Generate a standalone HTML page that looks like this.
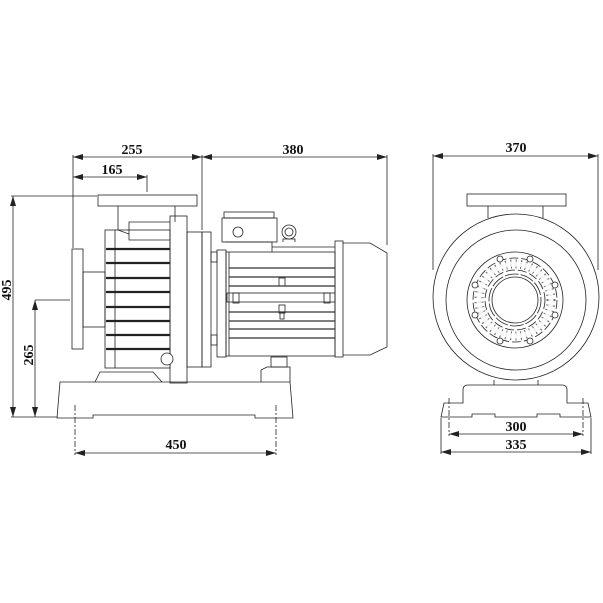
<!DOCTYPE html>
<html><head><style>
html,body{margin:0;padding:0;background:#fff}
svg{display:block}
text{font-family:"Liberation Serif",serif;font-weight:bold;font-size:14px;fill:#111}
</style></head><body>
<svg width="603" height="603" viewBox="0 0 603 603" xmlns="http://www.w3.org/2000/svg">
<defs>
<marker id="a" viewBox="0 0 10 6" refX="10" refY="3" markerWidth="10" markerHeight="6" orient="auto-start-reverse" markerUnits="userSpaceOnUse"><path d="M0,0 L10,3 L0,6 z" fill="#222"/></marker>
</defs>
<g fill="none" stroke="#222" stroke-width="0.8">
<line x1="73" y1="157" x2="202" y2="157" marker-start="url(#a)" marker-end="url(#a)"/>
<line x1="202" y1="157" x2="387" y2="157" marker-start="url(#a)" marker-end="url(#a)"/>
<line x1="73" y1="177" x2="147" y2="177" marker-start="url(#a)" marker-end="url(#a)"/>
<line x1="73" y1="155" x2="73" y2="248"/>
<line x1="202" y1="155" x2="202" y2="230"/>
<line x1="387" y1="155" x2="387" y2="245"/>
<line x1="147" y1="175" x2="147" y2="192"/>
<line x1="13" y1="196" x2="13" y2="417" marker-start="url(#a)" marker-end="url(#a)"/>
<line x1="11" y1="196" x2="97" y2="196"/>
<line x1="11" y1="417" x2="57" y2="417"/>
<line x1="35" y1="300" x2="35" y2="417" marker-start="url(#a)" marker-end="url(#a)"/>
<line x1="35" y1="300" x2="70" y2="300"/>
<line x1="75" y1="453" x2="276" y2="453" marker-start="url(#a)" marker-end="url(#a)"/>
<line x1="75" y1="405" x2="75" y2="455" stroke-dasharray="6,2,2,2"/>
<line x1="276" y1="405" x2="276" y2="455" stroke-dasharray="6,2,2,2"/>
<rect x="98" y="195" width="99" height="11"/>
<line x1="118" y1="206" x2="118" y2="230"/>
<line x1="175" y1="206" x2="175" y2="222"/>
<rect x="105" y="230" width="65" height="138"/>
<line x1="115" y1="230" x2="115" y2="368"/>
<path d="M118,230 L129,234 L129,222 L170,222 M129,234 L129,240 L170,240"/>
<rect x="72" y="249" width="11" height="100"/>
<rect x="83" y="272" width="22" height="55"/>
<rect x="170" y="216" width="17" height="167"/>
<rect x="187" y="232" width="15" height="135"/>
<rect x="202" y="232" width="9" height="135"/>
<rect x="211" y="252" width="6" height="10"/>
<rect x="211" y="335" width="6" height="10"/>
<rect x="217" y="250" width="9" height="107"/>
<circle cx="167" cy="359" r="6" fill="#fff"/>
<rect x="226" y="252" width="109" height="104"/>
<line x1="229" y1="252" x2="229" y2="356"/>
<path d="M225,242 L272,242 L272,252 M272,247 L335,247"/>
<rect x="335" y="241" width="8" height="116"/>
<path d="M343,243 L370,243 L387,253 L387,347 L370,355 L343,355"/>
<rect x="222" y="218" width="55" height="24"/>
<rect x="224" y="212" width="50" height="6"/>
<circle cx="238" cy="232" r="5"/>
<circle cx="289" cy="232" r="7"/><circle cx="289" cy="232" r="4"/>
<path d="M283,242 L283,239 L295,239 L295,242"/>
<rect x="227" y="293" width="108" height="9"/>
<rect x="233" y="293" width="6" height="10"/><rect x="324" y="293" width="6" height="10"/>
<rect x="279" y="278" width="6" height="8"/><rect x="279" y="305" width="6" height="8"/><rect x="280" y="313" width="4" height="6"/>
<path d="M60,382 L290,382 L293,418 L255,418 L255,415 L93,415 L93,418 L57,418 Z"/>
<path d="M95,382 L100,372 L153,372 L162,382"/>
<path d="M261,382 L261,370 L267,367 L290,367 L290,382"/>
<rect x="271" y="357" width="16" height="10"/>
</g>
<g fill="none" stroke="#222" stroke-width="2.2">
<line x1="106" y1="249" x2="170" y2="249"/><line x1="106" y1="263" x2="170" y2="263"/>
<line x1="106" y1="278" x2="170" y2="278"/><line x1="106" y1="292" x2="170" y2="292"/>
<line x1="106" y1="307" x2="170" y2="307"/><line x1="106" y1="321" x2="170" y2="321"/>
<line x1="106" y1="335" x2="170" y2="335"/><line x1="106" y1="349" x2="170" y2="349"/>
</g>
<g fill="none" stroke="#333" stroke-width="1.3">
<line x1="229" y1="268" x2="335" y2="268"/><line x1="229" y1="277" x2="335" y2="277"/>
<line x1="229" y1="286" x2="335" y2="286"/><line x1="229" y1="312" x2="335" y2="312"/>
<line x1="229" y1="321" x2="335" y2="321"/><line x1="229" y1="329" x2="335" y2="329"/>
<line x1="229" y1="338" x2="335" y2="338"/>
</g>
<g fill="none" stroke="#222" stroke-width="0.8">
<line x1="433" y1="156" x2="598" y2="156" marker-start="url(#a)" marker-end="url(#a)"/>
<line x1="433" y1="154" x2="433" y2="270"/>
<line x1="598" y1="154" x2="598" y2="270"/>
<rect x="467" y="194" width="99" height="12"/>
<line x1="488" y1="206" x2="488" y2="218"/><line x1="543" y1="206" x2="543" y2="218"/>
<circle cx="516" cy="297" r="83"/>
<circle cx="516" cy="300" r="70"/>
<circle cx="515" cy="300" r="48"/>
<circle cx="515" cy="300" r="42" stroke-dasharray="9,3"/>
<circle cx="515" cy="300" r="30" stroke-dasharray="9,3"/>
<circle cx="515" cy="300" r="26" stroke-dasharray="14,2"/>
<circle cx="515" cy="300" r="23"/>
<circle cx="515" cy="300" r="36" stroke="#666" stroke-width="9" stroke-dasharray="1,4"/>
<path d="M494,380 L494,385 M538,380 L538,385"/>
<path d="M463,403 L463,390 Q463,385 468,385 L562,385 Q567,385 567,390 L567,403 L588,403 L591,417 L560,417 L560,414 L537,414 L537,417 L495,417 L495,414 L472,414 L472,417 L441,417 L444,403 Z"/>
<line x1="449" y1="434" x2="583" y2="434" marker-start="url(#a)" marker-end="url(#a)"/>
<line x1="441" y1="452" x2="591" y2="452" marker-start="url(#a)" marker-end="url(#a)"/>
<line x1="449" y1="398" x2="449" y2="436" stroke-dasharray="6,2,2,2"/>
<line x1="583" y1="398" x2="583" y2="436" stroke-dasharray="6,2,2,2"/>
<line x1="441" y1="418" x2="441" y2="454"/>
<line x1="591" y1="418" x2="591" y2="454"/>
</g>
<circle cx="515" cy="300" r="36" fill="none" stroke="#fff" stroke-width="5" stroke-dasharray="1,4"/>
<g fill="#fff" stroke="#222" stroke-width="0.8">
<circle cx="500" cy="259" r="3"/><circle cx="530" cy="259" r="3"/>
<circle cx="475" cy="285" r="3"/><circle cx="555" cy="285" r="3"/>
<circle cx="475" cy="315" r="3"/><circle cx="555" cy="315" r="3"/>
<circle cx="500" cy="341" r="3"/><circle cx="530" cy="341" r="3"/>
</g>
<text x="132" y="154" text-anchor="middle">255</text>
<text x="293" y="154" text-anchor="middle">380</text>
<text x="112" y="174" text-anchor="middle">165</text>
<text x="176" y="449" text-anchor="middle">450</text>
<text transform="translate(11,290) rotate(-90)" text-anchor="middle">495</text>
<text transform="translate(33,355) rotate(-90)" text-anchor="middle">265</text>
<text x="516" y="152" text-anchor="middle">370</text>
<text x="516" y="431" text-anchor="middle">300</text>
<text x="516" y="449" text-anchor="middle">335</text>
</svg>
</body></html>
